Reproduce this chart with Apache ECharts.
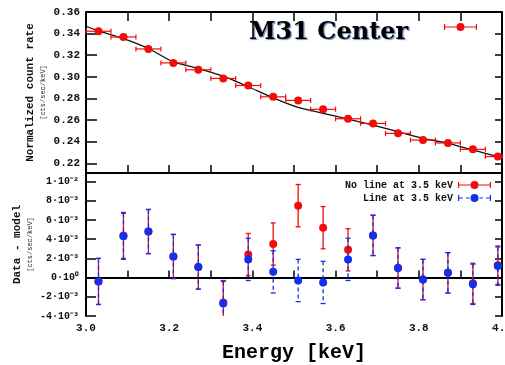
<!DOCTYPE html>
<html><head><meta charset="utf-8">
<script src="https://cdn.jsdelivr.net/npm/echarts@6/dist/echarts.min.js"></script>
<style>html,body{margin:0;padding:0;background:#fff}#c{width:505px;height:365px}</style>
</head><body><div id="c"></div>
<script>
// ---- data ----
const energy = [3.03,3.09,3.15,3.21,3.27,3.33,3.39,3.45,3.51,3.57,3.63,3.69,3.75,3.81,3.87,3.93,3.99];
const binHalfWidth = 0.03;
const countRate = [0.3422,0.3369,0.3258,0.3129,0.3065,0.2985,0.2920,0.2815,0.2782,0.2699,0.2612,0.2569,0.2477,0.2415,0.2388,0.2329,0.2262];
const modelEnergy = [3.00,3.03,3.09,3.15,3.21,3.27,3.33,3.39,3.45,3.51,3.57,3.63,3.69,3.75,3.81,3.87,3.93,3.99,4.00];
const modelRate = [0.3468,0.3425,0.3354,0.3262,0.3138,0.3077,0.3006,0.2908,0.2806,0.2717,0.2662,0.2609,0.2554,0.2492,0.2431,0.2385,0.2323,0.2262,0.2252];
const residNoLine = [-0.0004,0.0044,0.0048,0.0022,0.0011,-0.0026,0.0024,0.0035,0.0075,0.0052,0.0029,0.0044,0.0010,-0.0002,0.0005,-0.0006,0.0013];
const residLine   = [-0.0004,0.0043,0.0048,0.0022,0.0011,-0.0027,0.0019,0.0006,-0.0003,-0.0005,0.0019,0.0044,0.0010,-0.0002,0.0005,-0.0007,0.0012];
const residErr    = [0.0024,0.0024,0.0023,0.0023,0.0023,0.0023,0.0022,0.0022,0.0022,0.0022,0.0022,0.0021,0.0021,0.0021,0.0021,0.0021,0.0020];
const topTicks = [0.22,0.24,0.26,0.28,0.30,0.32,0.34,0.36];
const bottomTicks = [-0.004,-0.002,0,0.002,0.004,0.006,0.008,0.010];
const bottomTickLabels = ['-4·10⁻³','-2·10⁻³','0·10⁰','2·10⁻³','4·10⁻³','6·10⁻³','8·10⁻³','1·10⁻²'];
const energyTicks = [3.0,3.2,3.4,3.6,3.8,4.0];
const nameNoLine = 'No line at 3.5 keV';
const nameLine = 'Line at 3.5 keV';

const RED = '#f20d0d', BLUE = '#1030f0';
const MONO = 'Liberation Mono';

function hErr(color) {
  return function (params, api) {
    const y = api.value(0), lo = api.value(1), hi = api.value(2);
    const a = api.coord([lo, y]), b = api.coord([hi, y]);
    const cs = params.coordSys;
    const x1 = Math.max(a[0], cs.x), x2 = Math.min(b[0], cs.x + cs.width);
    const st = {stroke: color, lineWidth: 1.2};
    return {type: 'group', children: [
      {type: 'line', shape: {x1: x1, y1: a[1], x2: x2, y2: a[1]}, style: st},
      {type: 'line', shape: {x1: x1, y1: a[1] - 2.5, x2: x1, y2: a[1] + 2.5}, style: st},
      {type: 'line', shape: {x1: x2, y1: a[1] - 2.5, x2: x2, y2: a[1] + 2.5}, style: st}
    ]};
  };
}
function vErr(color, dash) {
  return function (params, api) {
    const x = api.value(0), lo = api.value(1), hi = api.value(2);
    const a = api.coord([x, hi]), b = api.coord([x, lo]);
    const cs = params.coordSys;
    const top = cs.y, bot = cs.y + cs.height;
    const y1 = Math.max(a[1], top), y2 = Math.min(b[1], bot);
    const ch = [{type: 'line', shape: {x1: a[0], y1: y1, x2: a[0], y2: y2},
                 style: {stroke: color, lineWidth: 1.3, lineDash: dash}}];
    const cap = {stroke: color, lineWidth: 1.3};
    if (a[1] >= top) ch.push({type: 'line', shape: {x1: a[0] - 2.5, y1: a[1], x2: a[0] + 2.5, y2: a[1]}, style: cap});
    if (b[1] <= bot) ch.push({type: 'line', shape: {x1: a[0] - 2.5, y1: b[1], x2: a[0] + 2.5, y2: b[1]}, style: cap});
    return {type: 'group', children: ch};
  };
}

const iconSolid = 'path://M0,1.5L1.2,1.5L1.2,7.5L0,7.5Z M1.2,4L12.5,4L12.5,5.1L1.2,5.1Z M20.5,4L31.8,4L31.8,5.1L20.5,5.1Z M31.8,1.5L33,1.5L33,7.5L31.8,7.5Z M12.5,4.5A4,4 0 1 1 20.5,4.5A4,4 0 1 1 12.5,4.5Z';
const iconDash = 'path://M0,1.5L1.2,1.5L1.2,7.5L0,7.5Z M1.2,4L5,4L5,5.1L1.2,5.1Z M8,4L11.5,4L11.5,5.1L8,5.1Z M21.5,4L25,4L25,5.1L21.5,5.1Z M28,4L31.8,4L31.8,5.1L28,5.1Z M31.8,1.5L33,1.5L33,7.5L31.8,7.5Z M12.5,4.5A4,4 0 1 1 20.5,4.5A4,4 0 1 1 12.5,4.5Z';

const axisLineStyle = {lineStyle: {color: '#000', width: 2}};
function xAx(gridIndex, position, tickLen, withLabels) {
  return {
    type: 'value', gridIndex: gridIndex, position: position, min: 3.0, max: 4.0, interval: 0.1,
    axisLine: axisLineStyle, splitLine: {show: false},
    axisTick: {show: tickLen > 0, inside: true, length: tickLen, lineStyle: {color: '#000', width: 1.5}},
    axisLabel: withLabels ? {show: true, customValues: energyTicks, formatter: v => v.toFixed(1),
      fontFamily: MONO, fontWeight: 'bold', fontSize: 11, color: '#111', margin: 7} : {show: false}
  };
}

const chart = echarts.init(document.getElementById('c'), null, {renderer: 'canvas'});
chart.setOption({
  animation: false,
  backgroundColor: '#fff',
  title: {text: 'M31 Center', left: 244, top: 16,
    textStyle: {fontFamily: 'DejaVu Serif', fontWeight: 'bold', fontSize: 24, color: '#000',
      textShadowColor: 'rgba(60,100,170,0.75)', textShadowOffsetX: 1.2, textShadowOffsetY: 1.2, textShadowBlur: 1}},
  legend: [
    {data: [{name: nameNoLine, icon: iconSolid}, {name: nameLine, icon: iconDash}],
     orient: 'vertical', right: 9, top: 175, itemGap: 3, align: 'right',
     itemWidth: 33, itemHeight: 8,
     textStyle: {fontFamily: MONO, fontWeight: 'bold', fontSize: 10, color: '#111'}},
    {data: [{name: 'M31 Center', icon: iconSolid}], right: 23, top: 18, itemWidth: 33, itemHeight: 8, align: 'right',
     formatter: () => '', textStyle: {fontSize: 1}}
  ],
  grid: [
    {left: 86, right: 3, top: 12, height: 161, outerBoundsMode: 'none', containLabel: false},
    {left: 86, right: 3, top: 173, height: 143, outerBoundsMode: 'none', containLabel: false}
  ],
  xAxis: [
    xAx(0, 'bottom', 8, false),
    xAx(0, 'top', 9, false),
    Object.assign(xAx(1, 'bottom', 7, true), {name: 'Energy [keV]', nameLocation: 'middle', nameGap: 27,
      nameMoveOverlap: false,
      nameTextStyle: {fontFamily: MONO, fontWeight: 'bold', fontSize: 20, color: '#000'}}),
    xAx(1, 'top', 0, false)
  ],
  yAxis: [
    {type: 'value', gridIndex: 0, position: 'left', min: 0.211, max: 0.36,
     axisLine: axisLineStyle, splitLine: {show: false},
     axisTick: {inside: true, length: 11, customValues: topTicks, lineStyle: {color: '#000', width: 1.5}},
     axisLabel: {customValues: topTicks, formatter: v => v.toFixed(2), fontFamily: MONO, fontWeight: 'bold', fontSize: 11, color: '#111', margin: 6},
     name: '{a|Normalized count rate}\n{b|[cts/sec/keV]}', nameLocation: 'middle', nameRotate: 90, nameGap: 37,
     nameMoveOverlap: false,
     nameTextStyle: {rich: {a: {fontFamily: MONO, fontWeight: 'bold', fontSize: 11, lineHeight: 13, color: '#111'},
                            b: {fontFamily: MONO, fontSize: 7, lineHeight: 12, color: '#222'}}}},
    {type: 'value', gridIndex: 0, position: 'right', min: 0.211, max: 0.36,
     axisLine: axisLineStyle, splitLine: {show: false}, axisLabel: {show: false},
     axisTick: {inside: true, length: 7, customValues: topTicks, lineStyle: {color: '#000', width: 1.5}}},
    {type: 'value', gridIndex: 1, position: 'left', min: -0.004, max: 0.0109,
     axisLine: axisLineStyle, splitLine: {show: false},
     axisTick: {inside: true, length: 10, customValues: bottomTicks, lineStyle: {color: '#000', width: 1.5}},
     axisLabel: {customValues: bottomTicks, formatter: v => bottomTickLabels[bottomTicks.findIndex(t => Math.abs(t - v) < 1e-9)],
       fontFamily: MONO, fontWeight: 'bold', fontSize: 10, color: '#111', margin: 7},
     name: '{a|Data - model}\n{b|[cts/sec/keV]}', nameLocation: 'middle', nameRotate: 90, nameGap: 50,
     nameMoveOverlap: false,
     nameTextStyle: {rich: {a: {fontFamily: MONO, fontWeight: 'bold', fontSize: 11, lineHeight: 14, color: '#111'},
                            b: {fontFamily: MONO, fontSize: 7, lineHeight: 12, color: '#222'}}}},
    {type: 'value', gridIndex: 1, position: 'right', min: -0.004, max: 0.0109,
     axisLine: axisLineStyle, splitLine: {show: false}, axisLabel: {show: false},
     axisTick: {inside: true, length: 7, customValues: bottomTicks, lineStyle: {color: '#000', width: 1.5}}}
  ],
  series: [
    {name: 'model', type: 'line', xAxisIndex: 0, yAxisIndex: 0, showSymbol: false, smooth: 0.2,
     data: modelEnergy.map((e, i) => [e, modelRate[i]]), lineStyle: {color: '#111', width: 1.3}, z: 2},
    {name: 'M31 Center err', type: 'custom', xAxisIndex: 0, yAxisIndex: 0, renderItem: hErr(RED),
     data: energy.map((e, i) => [countRate[i], e - binHalfWidth, e + binHalfWidth]),
     encode: {x: [1, 2], y: 0}, z: 3},
    {name: 'M31 Center', type: 'scatter', xAxisIndex: 0, yAxisIndex: 0, symbol: 'circle', symbolSize: 8,
     itemStyle: {color: RED, opacity: 1},
     data: energy.map((e, i) => [e, countRate[i]]), z: 4},

    {name: 'noline err', type: 'custom', xAxisIndex: 2, yAxisIndex: 2, renderItem: vErr(RED, null),
     data: energy.map((e, i) => [e, residNoLine[i] - residErr[i], residNoLine[i] + residErr[i]]),
     encode: {x: 0, y: [1, 2]}, z: 3,
     markLine: {silent: true, symbol: 'none', label: {show: false}, animation: false,
       lineStyle: {color: '#000', type: [6, 4], width: 1.5}, data: [{yAxis: 0}]}},
    {name: nameNoLine, type: 'scatter', xAxisIndex: 2, yAxisIndex: 2, symbol: 'circle', symbolSize: 8,
     itemStyle: {color: RED, opacity: 1},
     data: energy.map((e, i) => [e, residNoLine[i]]), z: 4},
    {name: 'line err', type: 'custom', xAxisIndex: 2, yAxisIndex: 2, renderItem: vErr(BLUE, [4, 3]),
     data: energy.map((e, i) => [e, residLine[i] - residErr[i], residLine[i] + residErr[i]]),
     encode: {x: 0, y: [1, 2]}, z: 5},
    {name: nameLine, type: 'scatter', xAxisIndex: 2, yAxisIndex: 2, symbol: 'circle', symbolSize: 8,
     itemStyle: {color: BLUE, opacity: 1},
     data: energy.map((e, i) => [e, residLine[i]]), z: 6}
  ]
});
</script>
</body></html>
